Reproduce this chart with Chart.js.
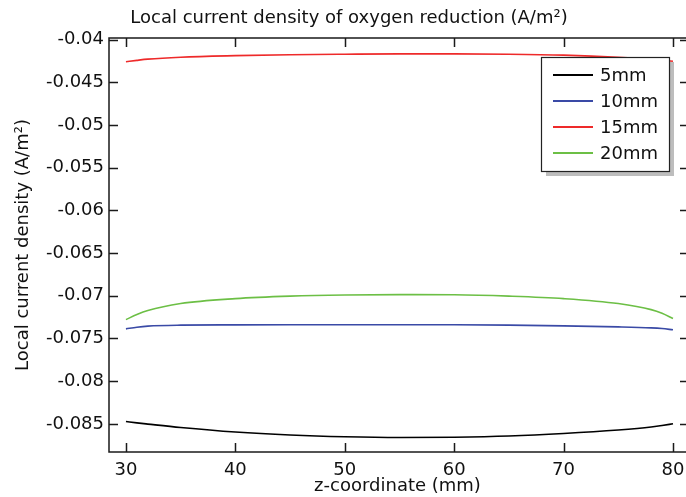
<!DOCTYPE html>
<html>
<head>
<meta charset="utf-8">
<script src="https://cdn.jsdelivr.net/npm/chart.js@4"></script>
<style>
  html, body { margin: 0; padding: 0; background: #fff; overflow: hidden; }
  #wrap { width: 686px; height: 497px; }
</style>
</head>
<body>
<div id="wrap"><canvas id="chart" width="686" height="497"></canvas></div>
<script>
// z-coordinate samples (mm)
const zCoord = [30, 31, 32, 35, 40, 45, 50, 55, 60, 65, 70, 75, 78, 79, 80];
// local current density per electrode spacing (A/m^2)
const d5mm  = [-0.08473, -0.08489, -0.08503, -0.08543, -0.08596, -0.08631, -0.08652, -0.08661, -0.08657, -0.08643, -0.08614, -0.08573, -0.08538, -0.0852, -0.085];
const d10mm = [-0.07388, -0.07368, -0.07355, -0.07344, -0.07341, -0.0734, -0.0734, -0.0734, -0.0734, -0.07344, -0.07352, -0.07364, -0.07376, -0.07384, -0.07398];
const d15mm = [-0.04258, -0.04242, -0.04228, -0.04205, -0.04187, -0.04176, -0.0417, -0.04166, -0.04166, -0.0417, -0.04181, -0.04205, -0.04228, -0.0424, -0.04252];
const d20mm = [-0.07279, -0.0722, -0.07173, -0.07091, -0.07033, -0.07004, -0.0699, -0.06986, -0.06988, -0.07004, -0.07033, -0.07091, -0.07162, -0.07205, -0.07267];
const seriesLabels = ['5mm', '10mm', '15mm', '20mm'];
const xTicks = [30, 40, 50, 60, 70, 80];
const yTicks = [-0.04, -0.045, -0.05, -0.055, -0.06, -0.065, -0.07, -0.075, -0.08, -0.085];

const FONT = 'DejaVu Sans';
const colors = ['#000000', '#3a4aa6', '#ee2a2a', '#6cbf45'];

function pts(arr){ return zCoord.map((z, i) => ({ x: z, y: arr[i] })); }

// frame + inward ticks on all four sides (COMSOL style)
// the right edge of the frame falls just outside the picture, like the original export
const framePlugin = {
  id: 'frame',
  afterDraw(chart){
    const c = chart.ctx, a = chart.chartArea;
    const xs = chart.scales.x, ys = chart.scales.y;
    const right = a.right + 3;
    c.save();
    c.strokeStyle = '#1a1a1a';
    c.lineWidth = 1.5;
    c.strokeRect(a.left, a.top, right - a.left, a.bottom - a.top);
    c.beginPath();
    xTicks.forEach(v => {
      const px = Math.round(xs.getPixelForValue(v)) + 0.5;
      c.moveTo(px, a.bottom); c.lineTo(px, a.bottom - 9);
      c.moveTo(px, a.top); c.lineTo(px, a.top + 9);
    });
    yTicks.forEach(v => {
      const py = Math.round(ys.getPixelForValue(v)) + 0.5;
      c.moveTo(a.left, py); c.lineTo(a.left + 9, py);
      c.moveTo(right, py); c.lineTo(right - 9, py);
    });
    c.stroke();
    c.restore();
  }
};

// boxed legend with drop shadow
const boxLegend = {
  id: 'boxLegend',
  afterDraw(chart){
    const c = chart.ctx;
    const x = 541, y = 57, w = 128, h = 114;
    c.save();
    c.fillStyle = '#bdbdbd';
    c.fillRect(x + 5, y + 5, w, h);
    c.fillStyle = '#fff';
    c.fillRect(x, y, w, h);
    c.strokeStyle = '#222';
    c.lineWidth = 1.2;
    c.strokeRect(x + 0.5, y + 0.5, w, h);
    c.font = '18px "' + FONT + '"';
    c.textBaseline = 'middle';
    chart.data.datasets.forEach((ds, i) => {
      const ry = 75 + i * 26;
      c.strokeStyle = ds.borderColor;
      c.lineWidth = 2;
      c.beginPath(); c.moveTo(553, ry); c.lineTo(593, ry); c.stroke();
      c.fillStyle = '#111';
      c.fillText(ds.label, 600, ry + 1);
    });
    c.restore();
  }
};

new Chart(document.getElementById('chart'), {
  type: 'line',
  data: {
    datasets: [d5mm, d10mm, d15mm, d20mm].map((arr, i) => ({
      label: seriesLabels[i],
      data: pts(arr),
      borderColor: colors[i],
      borderWidth: 1.6,
      pointRadius: 0,
      fill: false,
      cubicInterpolationMode: 'monotone'
    }))
  },
  options: {
    responsive: false,
    animation: false,
    layout: { autoPadding: false, padding: { left: 12, right: 0, top: 0, bottom: 0 } },
    plugins: {
      legend: { display: false },
      tooltip: { enabled: false },
      title: {
        display: true,
        text: 'Local current density of oxygen reduction (A/m²)',
        color: '#111',
        font: { family: FONT, size: 18, weight: 'normal' },
        padding: { top: 8, bottom: 8.4 }
      }
    },
    scales: {
      x: {
        type: 'linear',
        min: 28.45, max: 81.19,
        grid: { display: false, drawTicks: false },
        border: { display: false },
        afterBuildTicks(s){ s.ticks = xTicks.map(v => ({ value: v })); },
        afterFit(s){ s.height = 45; s.paddingLeft = 0; s.paddingRight = 0; },
        ticks: { color: '#111', font: { family: FONT, size: 18 }, padding: 8, maxRotation: 0 },
        title: { display: true, text: 'z-coordinate (mm)', color: '#111', font: { family: FONT, size: 18 }, padding: { top: 0, bottom: 0 } }
      },
      y: {
        type: 'linear',
        min: -0.0883, max: -0.0398,
        grid: { display: false, drawTicks: false },
        border: { display: false },
        afterBuildTicks(s){ s.ticks = yTicks.map(v => ({ value: v })); },
        afterFit(s){ s.width = 97; },
        ticks: { color: '#111', font: { family: FONT, size: 18 }, padding: 5, callback: v => String(v) },
        title: { display: true, text: 'Local current density (A/m²)', color: '#111', font: { family: FONT, size: 18 }, padding: { top: 1, bottom: 0 } }
      }
    }
  },
  plugins: [framePlugin, boxLegend]
});
</script>
</body>
</html>
